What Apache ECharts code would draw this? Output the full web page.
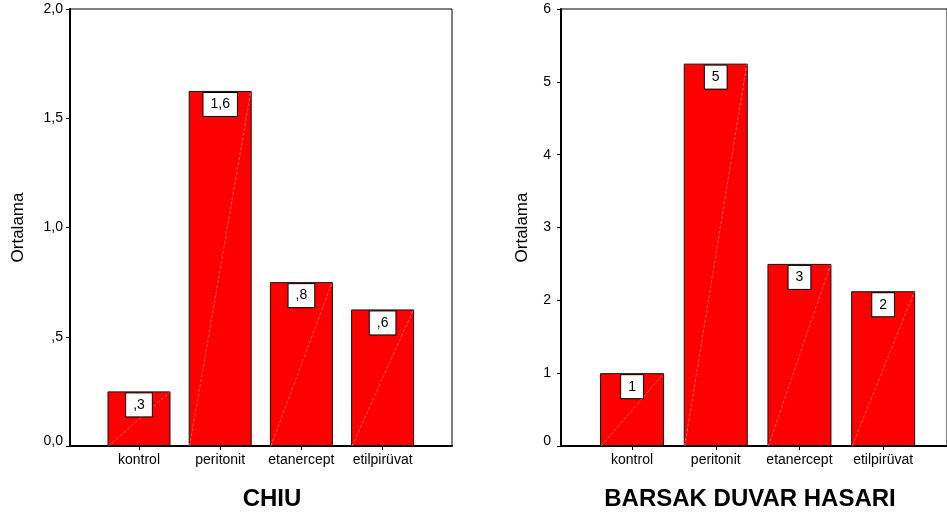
<!DOCTYPE html>
<html>
<head>
<meta charset="utf-8">
<script src="https://cdn.jsdelivr.net/npm/echarts@6/dist/echarts.min.js"></script>
<style>
html,body{margin:0;padding:0;background:#fff;}
#c{width:947px;height:517px;}
</style>
</head>
<body>
<div id="c"></div>
<script>
const categories = ['kontrol', 'peritonit', 'etanercept', 'etilpirüvat'];
const chiuValues = [0.25, 1.625, 0.75, 0.625];
const chiuLabels = [',3', '1,6', ',8', ',6'];
const barsakValues = [1.0, 5.25, 2.5, 2.125];
const barsakLabels = ['1', '5', '3', '2'];
const chiuTitle = 'CHIU';
const barsakTitle = 'BARSAK DUVAR HASARI';
const yName = 'Ortalama';

const FONT = "'Liberation Sans', Arial, sans-serif";
const chart = echarts.init(document.getElementById('c'), null, {renderer: 'canvas'});

function leftFmt(v) {
  let s = v.toFixed(1).replace('.', ',');
  if (v > 0 && v < 1) s = s.replace(/^0/, '');
  return v === 0 ? '{z|' + s + '}' : s;
}
function rightFmt(v) {
  return v === 0 ? '{z|0}' : String(v);
}
function yLabel(fmt, margin) {
  return {
    formatter: fmt, color: '#000', fontSize: 14, fontFamily: FONT, margin: margin,
    rich: {z: {color: '#000', fontSize: 14, fontFamily: FONT, padding: [0, 0, 10, 0]}}
  };
}

function frameX(grid) {
  return {
    gridIndex: grid, type: 'category', data: [''],
    axisLine: {show: true, lineStyle: {color: '#000', width: 2}},
    axisTick: {show: false}, axisLabel: {show: false}, splitLine: {show: false}
  };
}
function frameY(grid, max, interval, fmt, margin, gap) {
  return {
    gridIndex: grid, type: 'value', min: 0, max: max, interval: interval,
    axisLine: {show: true, lineStyle: {color: '#000', width: 2}},
    axisTick: {show: true, length: 4, lineStyle: {color: '#000', width: 1}},
    axisLabel: yLabel(fmt, margin),
    splitLine: {show: false},
    name: yName, nameLocation: 'middle', nameGap: gap,
    nameTextStyle: {color: '#000', fontSize: 17, fontFamily: FONT}
  };
}
function innerX(grid) {
  return {
    gridIndex: grid, type: 'category', data: categories,
    axisLine: {show: false},
    axisTick: {show: true, alignWithLabel: true, length: 4, lineStyle: {color: '#000', width: 1}},
    axisLabel: {color: '#000', fontSize: 14, fontFamily: FONT, margin: 7, interval: 0}
  };
}
function innerY(grid, max) {
  return {gridIndex: grid, type: 'value', min: 0, max: max, show: false};
}
function barSeries(axisIdx, values, labels, w) {
  return {
    type: 'bar', xAxisIndex: axisIdx, yAxisIndex: axisIdx,
    data: values, barWidth: w, silent: true,
    itemStyle: {color: '#ff0000', borderColor: '#111', borderWidth: 1},
    label: {
      show: true, position: 'insideTop', distance: 2,
      formatter: p => labels[p.dataIndex],
      color: '#000', fontSize: 14, fontFamily: FONT, lineHeight: 15,
      backgroundColor: '#fff', borderColor: '#000', borderWidth: 1, padding: [4, 7]
    }
  };
}
function diagSeries(axisIdx, values, w) {
  return {
    type: 'custom', xAxisIndex: axisIdx, yAxisIndex: axisIdx, silent: true, z: 3,
    data: values.map((v, i) => [i, v]),
    renderItem: function (params, api) {
      const b = api.coord([api.value(0), 0]);
      const t = api.coord([api.value(0), api.value(1)]);
      return {
        type: 'line',
        shape: {x1: b[0] - w / 2 + 1, y1: b[1], x2: b[0] + w / 2 - 1, y2: t[1] + 1},
        style: {stroke: 'rgba(255,190,190,0.9)', lineWidth: 0.6, lineDash: [3, 2]}
      };
    }
  };
}

chart.setOption({
  animation: false,
  backgroundColor: '#fff',
  grid: [
    {left: 70, top: 9, width: 382, height: 437, show: true, borderColor: '#000', borderWidth: 1, backgroundColor: 'transparent'},
    {left: 98.4, top: 9, width: 324.8, height: 437},
    {left: 561, top: 9, width: 400, height: 437, show: true, borderColor: '#000', borderWidth: 1, backgroundColor: 'transparent'},
    {left: 590.2, top: 9, width: 334.8, height: 437}
  ],
  xAxis: [frameX(0), innerX(1), frameX(2), innerX(3)],
  yAxis: [
    frameY(0, 2, 0.5, leftFmt, 7, 43),
    innerY(1, 2),
    frameY(2, 6, 1, rightFmt, 10, 30),
    innerY(3, 6)
  ],
  series: [
    barSeries(1, chiuValues, chiuLabels, 63),
    diagSeries(1, chiuValues, 63),
    barSeries(3, barsakValues, barsakLabels, 64),
    diagSeries(3, barsakValues, 64)
  ],
  graphic: [
    {type: 'text', x: 272, y: 499, style: {text: chiuTitle, font: "bold 24px 'Liberation Sans', Arial, sans-serif", fill: '#000', align: 'center', verticalAlign: 'middle'}},
    {type: 'text', x: 750, y: 499, style: {text: barsakTitle, font: "bold 24px 'Liberation Sans', Arial, sans-serif", fill: '#000', align: 'center', verticalAlign: 'middle'}}
  ]
});
</script>
</body>
</html>
